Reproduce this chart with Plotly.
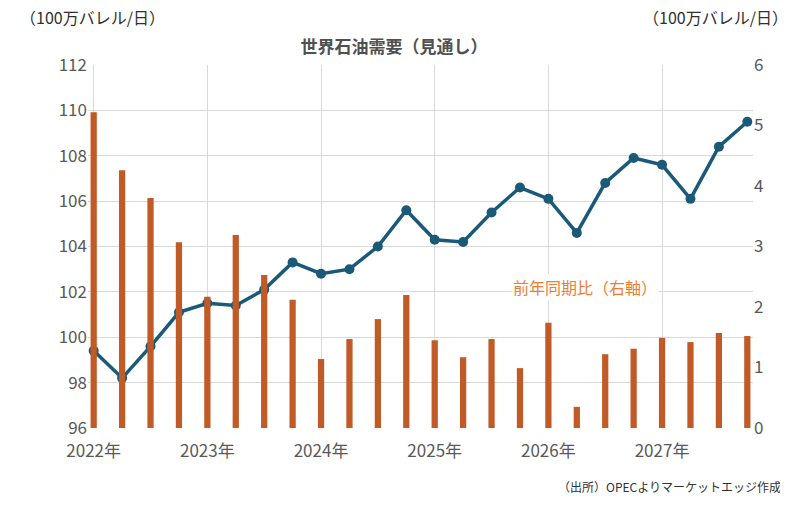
import plotly.graph_objects as go

quarters = list(range(24))
year_labels = ["2022年", "2023年", "2024年", "2025年", "2026年", "2027年"]
year_ticks = [0, 4, 8, 12, 16, 20]
demand = [99.4, 98.2, 99.6, 101.1, 101.5, 101.4, 102.1, 103.3,
          102.8, 103.0, 104.0, 105.6, 104.3, 104.2, 105.5, 106.6,
          106.1, 104.6, 106.8, 107.9, 107.6, 106.1, 108.4, 109.5]
yoy = [5.22, 4.26, 3.80, 3.07, 2.17, 3.19, 2.53, 2.12,
       1.14, 1.47, 1.80, 2.20, 1.45, 1.17, 1.47, 0.99,
       1.74, 0.35, 1.22, 1.31, 1.49, 1.42, 1.57, 1.52]

fig = go.Figure()
fig.add_trace(go.Bar(x=quarters, y=yoy, yaxis="y2", width=0.22,
                     marker=dict(color="#c05a26", line=dict(width=0))))
fig.add_trace(go.Scatter(x=quarters, y=demand, mode="lines+markers",
                         line=dict(color="#1a5a78", width=3.5),
                         marker=dict(size=10, color="#1a5a78")))
font = "Noto Sans CJK JP"
fig.update_layout(
    width=788, height=508, showlegend=False, plot_bgcolor="white", paper_bgcolor="white",
    margin=dict(l=80, r=43, t=57, b=88, autoexpand=False),
    font=dict(family=font, color="#404040"),
    title=dict(text="<b>世界石油需要（見通し）</b>", x=0.49, xanchor="center", y=0.935, font=dict(size=17, color="#505050")),
    xaxis=dict(range=[-0.2, 23.2], tickvals=year_ticks, ticktext=year_labels, showgrid=True,
               gridcolor="#d9d9d9", ticks="outside", ticklen=8, tickcolor="white",
               tickfont=dict(size=17, color="#595959"), zeroline=False),
    yaxis=dict(range=[96, 112], dtick=2, showgrid=True, gridcolor="#d9d9d9",
               tickfont=dict(size=17, color="#595959"), zeroline=False),
    yaxis2=dict(range=[0, 6], dtick=1, overlaying="y", side="right", showgrid=False,
                tickfont=dict(size=17, color="#595959"), zeroline=False),
    annotations=[
        dict(text="（100万バレル/日）", xref="paper", yref="paper", x=-0.105, y=1.17, xanchor="left",
             showarrow=False, font=dict(size=16, color="#303030")),
        dict(text="（100万バレル/日）", xref="paper", yref="paper", x=1.055, y=1.17, xanchor="right",
             showarrow=False, font=dict(size=16, color="#303030")),
        dict(text="前年同期比（右軸）", x=17.3, y=102.2, showarrow=False, bgcolor="white",
             font=dict(size=16, color="#ed7d31")),
        dict(text="（出所）OPECよりマーケットエッジ作成", xref="paper", yref="paper", x=1.045, y=-0.19,
             xanchor="right", showarrow=False, font=dict(size=12, color="#303030")),
    ],
)
fig.write_html("out.html")
